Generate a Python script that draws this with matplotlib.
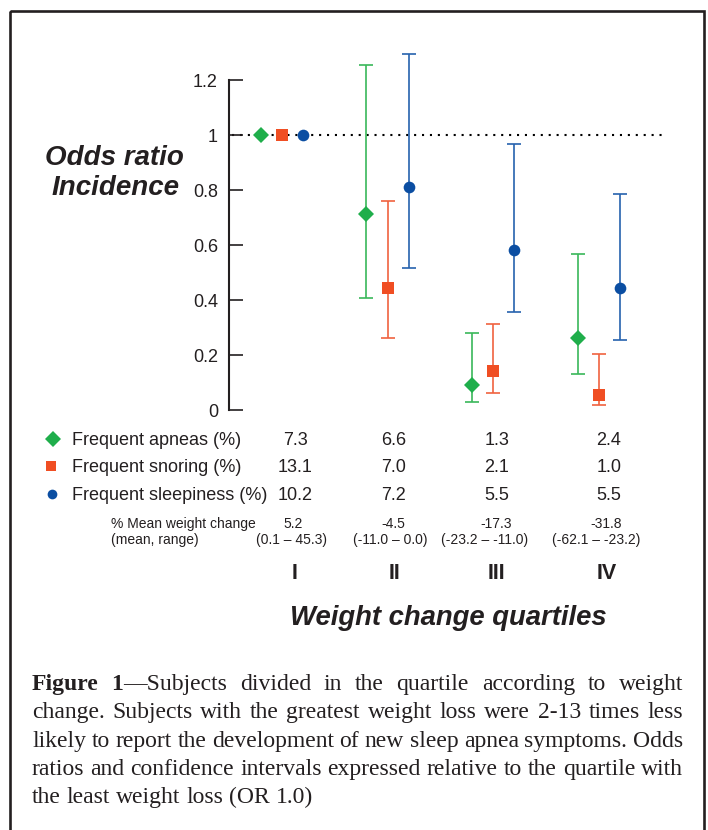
import matplotlib
matplotlib.use("Agg")
import matplotlib.pyplot as plt
from matplotlib.patches import Rectangle

# ---------------- data ----------------
quartiles = ["I", "II", "III", "IV"]
series_names = ["Frequent apneas (%)", "Frequent snoring (%)", "Frequent sleepiness (%)"]

apnea_or = [1.0, 0.713, 0.092, 0.263]
apnea_lo = [None, 0.406, 0.029, 0.130]
apnea_hi = [None, 1.256, 0.279, 0.568]

snoring_or = [1.0, 0.444, 0.142, 0.055]
snoring_lo = [None, 0.263, 0.062, 0.017]
snoring_hi = [None, 0.761, 0.312, 0.202]

sleepiness_or = [1.0, 0.812, 0.582, 0.444]
sleepiness_lo = [None, 0.516, 0.356, 0.256]
sleepiness_hi = [None, 1.295, 0.967, 0.784]

apnea_pct = ["7.3", "6.6", "1.3", "2.4"]
snoring_pct = ["13.1", "7.0", "2.1", "1.0"]
sleepiness_pct = ["10.2", "7.2", "5.5", "5.5"]
weight_mean = ["5.2", "-4.5", "-17.3", "-31.8"]
weight_range = ["(0.1 \u2013 45.3)", "(-11.0 \u2013 0.0)", "(-23.2 \u2013 -11.0)", "(-62.1 \u2013 -23.2)"]

yticks = [0, 0.2, 0.4, 0.6, 0.8, 1.0, 1.2]
ytick_labels = ["0", "0.2", "0.4", "0.6", "0.8", "1", "1.2"]
reference_or = 1.0

caption_lines = [
    [[("Figure", "bold")], [("1", "bold"), ("\u2014Subjects", "normal")], "divided", "in", "the",
     "quartile", "according", "to", "weight"],
    "change. Subjects with the greatest weight loss were 2-13 times less".split(),
    "likely to report the development of new sleep apnea symptoms. Odds".split(),
    "ratios and confidence intervals expressed relative to the quartile with".split(),
    "the least weight loss (OR 1.0)".split(),
]

# ---------------- style ----------------
W, H = 708, 830
TXT = "#231f20"
SANS = "Liberation Sans"
SERIF = "Liberation Serif"
styles = [
    dict(marker="D", ms=8.1, mc="#1fae4b", ec="#3ab85a"),
    dict(marker="s", ms=8.3, mc="#f04e23", ec="#f0623f"),
    dict(marker="o", ms=8.4, mc="#0b4ea2", ec="#2662ae"),
]
offsets = [-0.2, 0.0, 0.2]

fig = plt.figure(figsize=(W / 100, H / 100), dpi=100)
fig.patch.set_facecolor("white")

# overlay axes in pixel coordinates for frame, table and captions
ov = fig.add_axes([0, 0, 1, 1])
ov.set_xlim(0, W)
ov.set_ylim(H, 0)
ov.axis("off")
ov.patch.set_alpha(0)

# ---------------- main chart ----------------
y0_px, unit_px = 410, 275.0
ymin, ymax = 0.0, 1.32
x_left_px, x_right_px = 229, 665
ax = fig.add_axes([x_left_px / W, (H - y0_px) / H, (x_right_px - x_left_px) / W,
                   (ymax - ymin) * unit_px / H])
ax.set_xlim(0.5, 4.625)
ax.set_ylim(ymin, ymax)
ax.patch.set_alpha(0)
for s in ["top", "right", "bottom"]:
    ax.spines[s].set_visible(False)
ax.spines["left"].set_bounds(0, 1.2)
ax.spines["left"].set_linewidth(1.5)
ax.spines["left"].set_color(TXT)
ax.set_xticks([])
ax.set_yticks(yticks)
ax.set_yticklabels(ytick_labels)
ax.tick_params(axis="y", direction="in", length=10, width=1.2, pad=8,
               labelsize=13, colors=TXT)
for lab in ax.get_yticklabels():
    lab.set_family(SANS)

ax.plot([0.53, 4.6], [reference_or, reference_or], color="black", lw=1.5,
        linestyle=(0, (1, 2.8)), zorder=1)

all_or = [apnea_or, snoring_or, sleepiness_or]
all_lo = [apnea_lo, snoring_lo, sleepiness_lo]
all_hi = [apnea_hi, snoring_hi, sleepiness_hi]
for k in range(3):
    xs = [i + 1 + offsets[k] for i in range(4)]
    st = styles[k]
    ex, ey, elo, ehi = [], [], [], []
    for i in range(4):
        if all_lo[k][i] is not None:
            ex.append(xs[i])
            ey.append(all_or[k][i])
            elo.append(all_or[k][i] - all_lo[k][i])
            ehi.append(all_hi[k][i] - all_or[k][i])
    ax.errorbar(ex, ey, yerr=[elo, ehi], fmt="none", ecolor=st["ec"], elinewidth=1.2,
                capsize=4.7, capthick=1.2, clip_on=False, zorder=2)
    ax.plot(xs, all_or[k], linestyle="none", marker=st["marker"], ms=st["ms"],
            color=st["mc"], mew=0, clip_on=False, zorder=3)

# ---------------- axis titles ----------------
for txt, x, y in [("Odds ratio", 114, 165), ("Incidence", 115.5, 195)]:
    ov.text(x, y, txt, ha="center", va="baseline", fontsize=20, fontweight="bold",
            fontstyle="italic", family=SANS, color=TXT)
ov.text(448, 625, "Weight change quartiles", ha="center", va="baseline", fontsize=19.8,
        fontweight="bold", fontstyle="italic", family=SANS, color=TXT)

# ---------------- table ----------------
row_base = [445, 472, 499.5]
legend_ms = [7.9, 6.8, 7.0]
legend_x = [53.3, 51, 52.3]
col_x = [295, 394, 497, 609]
values = [apnea_pct, snoring_pct, sleepiness_pct]
for r in range(3):
    st = styles[r]
    ov.plot([legend_x[r]], [row_base[r] - 6], linestyle="none", marker=st["marker"],
            ms=legend_ms[r], color=st["mc"], mew=0)
    ov.text(72, row_base[r], series_names[r], ha="left", va="baseline", fontsize=13,
            family=SANS, color=TXT)
    for c in range(4):
        ov.text(col_x[c], row_base[r], values[r][c], ha="center", va="baseline",
                fontsize=13, family=SANS, color=TXT)

ov.text(111, 528, "% Mean weight change", ha="left", va="baseline", fontsize=10,
        family=SANS, color=TXT)
ov.text(111, 544, "(mean, range)", ha="left", va="baseline", fontsize=10,
        family=SANS, color=TXT)
mean_x = [293, 393, 496, 606]
range_x = [292, 390, 485, 596]
for c in range(4):
    ov.text(mean_x[c], 528, weight_mean[c], ha="center", va="baseline", fontsize=10,
            family=SANS, color=TXT)
    ov.text(range_x[c], 544, weight_range[c], ha="center", va="baseline", fontsize=10,
            family=SANS, color=TXT)

roman_x = [295, 395, 496, 607]
for c in range(4):
    ov.text(roman_x[c], 579, quartiles[c], ha="center", va="baseline", fontsize=15.5,
            fontweight="bold", family=SANS, color=TXT)

# ---------------- frame ----------------
ov.add_patch(Rectangle((10, 11), 694, 840, fill=False, lw=1.9, edgecolor=TXT,
                       clip_on=False))

# ---------------- caption (justified) ----------------
cap_fs = 17.0
renderer = fig.canvas.get_renderer()


def piece_width(txt, weight):
    t = ov.text(0, 0, txt, fontsize=cap_fs, family=SERIF, fontweight=weight)
    w = t.get_window_extent(renderer).width
    t.remove()
    return w


def norm_word(w):
    if isinstance(w, str):
        return [(w, "normal")]
    return w


space_w = piece_width("a b", "normal") - piece_width("ab", "normal")
cap_left, cap_right = 32, 683
cap_base = [690, 718.3, 746.6, 775, 803.3]
for li, line in enumerate(caption_lines):
    words = [norm_word(w) for w in line]
    widths = [[piece_width(p, wt) for p, wt in w] for w in words]
    total = sum(sum(ws) for ws in widths)
    last = li == len(caption_lines) - 1
    gap = space_w if last else (cap_right - cap_left - total) / (len(words) - 1)
    if not last and gap < 0.6 * space_w:
        gap = 0.6 * space_w
    x = cap_left
    for w, ws in zip(words, widths):
        for (p, wt), pw in zip(w, ws):
            ov.text(x, cap_base[li], p, ha="left", va="baseline", fontsize=cap_fs,
                    family=SERIF, fontweight=wt, color=TXT)
            x += pw
        x += gap

fig.savefig("out.png", dpi=100)
